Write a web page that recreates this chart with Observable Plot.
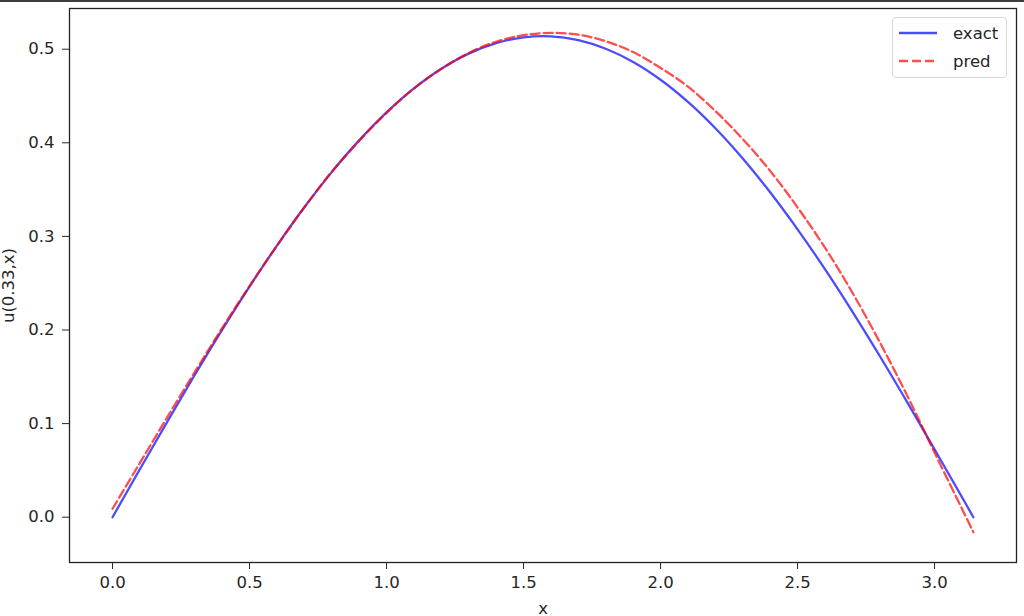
<!DOCTYPE html>
<html>
<head>
<meta charset="utf-8">
<script src="https://cdn.jsdelivr.net/npm/d3@7"></script>
<script src="https://cdn.jsdelivr.net/npm/@observablehq/plot@0.6"></script>
<style>
  html, body { margin: 0; padding: 0; background: #fff; }
  body { width: 1024px; height: 616px; overflow: hidden; position: relative; font-family: "DejaVu Sans", sans-serif; }
  #topbar { position: absolute; left: 0; top: 0; width: 1024px; height: 2px; background: #3c3c3c; }
  #legend { position: absolute; left: 892px; top: 17px; width: 113px; height: 59px; border: 1px solid #d8d8d8; border-radius: 4px; background: rgba(255,255,255,0.8); font-size: 16.5px; color: #262626; }
  #legend .row { position: absolute; left: 0; height: 20px; display: flex; align-items: center; }
  #legend svg { margin-left: 6px; }
  #legend span { margin-left: 14px; }
</style>
</head>
<body>
<div id="chart"></div>
<div id="topbar"></div>
<div id="legend"></div>
<script>
const xs = [0.0, 0.1, 0.2, 0.3, 0.4, 0.5, 0.6, 0.7, 0.8, 0.9, 1.0, 1.1, 1.2, 1.3, 1.4, 1.5, 1.6,
            1.7, 1.8, 1.9, 2.0, 2.1, 2.2, 2.3, 2.4, 2.5, 2.6, 2.7, 2.8, 2.9, 3.0, 3.1, 3.1416];
const exactValues = [0.000, 0.0513, 0.1021, 0.1519, 0.2002, 0.2464, 0.2902, 0.3311, 0.3687, 0.4026,
                     0.4325, 0.4581, 0.4791, 0.4953, 0.5065, 0.5127, 0.5138, 0.5097, 0.5005, 0.4864,
                     0.4674, 0.4437, 0.4156, 0.3833, 0.3472, 0.3076, 0.2650, 0.2197, 0.1722, 0.1229,
                     0.0725, 0.0214, 0.000];
const predValues = [0.009, 0.058, 0.107, 0.155, 0.202, 0.247, 0.290, 0.331, 0.369, 0.402,
                    0.432, 0.458, 0.479, 0.496, 0.508, 0.515, 0.5175, 0.5155, 0.5085, 0.497,
                    0.480, 0.460, 0.434, 0.404, 0.370, 0.331, 0.288, 0.240, 0.187, 0.130,
                    0.069, 0.009, -0.016];
const xTicks = [0.0, 0.5, 1.0, 1.5, 2.0, 2.5, 3.0];
const yTicks = [0.0, 0.1, 0.2, 0.3, 0.4, 0.5];
const seriesNames = ["exact", "pred"];
const seriesColors = ["#0000ff", "#ff0000"];

const exactData = xs.map((x, i) => ({x, y: exactValues[i]}));
const predData = xs.map((x, i) => ({x, y: predValues[i]}));

const plot = Plot.plot({
  width: 1024,
  height: 616,
  marginLeft: 69,
  marginRight: 8,
  marginTop: 8,
  marginBottom: 54,
  style: {fontFamily: "DejaVu Sans, sans-serif", fontSize: "16.5px", color: "#262626", background: "#fff"},
  x: {domain: [-0.157, 3.299], ticks: xTicks, tickFormat: d3.format(".1f"), tickSize: 7, tickPadding: 7,
      label: "x", labelAnchor: "center", labelOffset: 51},
  y: {domain: [-0.0484, 0.5435], ticks: yTicks, tickFormat: d3.format(".1f"), tickSize: 7, tickPadding: 8,
      label: "u(0.33,x)", labelAnchor: "center", labelOffset: 67},
  marks: [
    Plot.line(exactData, {x: "x", y: "y", stroke: seriesColors[0], strokeOpacity: 0.7, strokeWidth: 2.3, curve: "catmull-rom"}),
    Plot.line(predData, {x: "x", y: "y", stroke: seriesColors[1], strokeOpacity: 0.7, strokeWidth: 2.3, strokeDasharray: "9,4", curve: "catmull-rom"}),
    Plot.frame({stroke: "#222", strokeWidth: 1.3})
  ]
});
plot.querySelectorAll("[aria-label='x-axis label'] text, [aria-label='y-axis label'] text").forEach(t => t.textContent = t.textContent.replace(/\s*[→↑]\s*/g, ""));
document.getElementById("chart").appendChild(plot);

const legend = document.getElementById("legend");
seriesNames.forEach((name, i) => {
  const row = document.createElement("div");
  row.className = "row";
  row.style.top = (5 + i * 28) + "px";
  const dash = i === 1 ? ' stroke-dasharray="9,4"' : '';
  row.innerHTML = `<svg width="40" height="10"><line x1="0" y1="5" x2="38" y2="5" stroke="${seriesColors[i]}" stroke-opacity="0.7" stroke-width="2.3"${dash}/></svg><span>${name}</span>`;
  legend.appendChild(row);
});
</script>
</body>
</html>
